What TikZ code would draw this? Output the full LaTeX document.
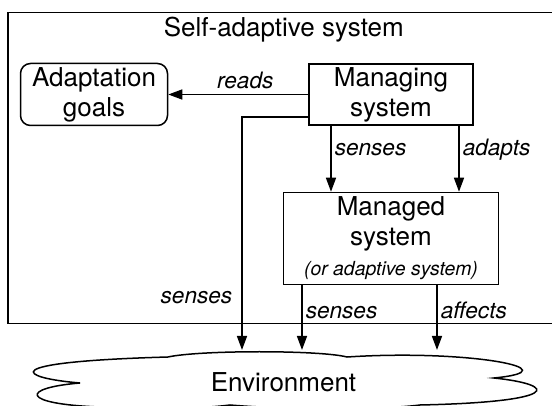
\documentclass[tikz,border=0pt]{standalone}
\usepackage{fontspec}
\setmainfont{TeX Gyre Heros}
\usetikzlibrary{positioning,arrows.meta}
\tikzset{block/.style={draw,inner sep=0pt,align=center,font=\fontsize{13}{15}\selectfont}}
\tikzset{lbl/.style={inner sep=1.5pt,font=\fontsize{11.3}{13}\selectfont\itshape}}
\tikzset{>={Triangle[length=7pt,width=5pt]}}

\begin{document}
\begin{tikzpicture}[x=0.5pt,y=-0.5pt,line width=0.75pt]
    \useasboundingbox (0,0) rectangle (552,406);

    \node (sas) [draw,minimum width=276pt,minimum height=155.5pt,anchor=north west] at (7,12) {};
    \node (title) [anchor=base,font=\fontsize{13}{15}\selectfont] at ([yshift=-12.5pt]sas.north) {Self-adaptive system};

    \node (managing) [block,minimum width=82pt,minimum height=30.5pt] at (391,94.5) {Managing\\system};
    \node (goals) [block,rounded corners=5pt,minimum width=73.5pt,minimum height=31pt,left=70pt of managing] {Adaptation\\goals};
    \node (managed) [block,minimum width=107.5pt,minimum height=46pt,below=33pt of managing] {Managed\\system\\{\fontsize{9.7}{15}\selectfont\itshape (or adaptive system)}};

    % environment cloud
    \draw (80,383) .. controls (20,378) and (-10,362) .. (168,357)
          .. controls (200,350) and (320,350) .. (347,357)
          .. controls (470,349) and (575,370) .. (494,378)
          .. controls (560,385) and (560,402) .. (420,405)
          .. controls (380,410) and (290,410) .. (230,405)
          .. controls (190,410) and (140,408) .. (100,407)
          .. controls (20,404) and (20,388) .. cycle;
    \node (env) [anchor=base,font=\fontsize{13}{15}\selectfont] at (283.5,392) {Environment};
    \coordinate (e1) at (242,350);
    \coordinate (e2) at (302,350);
    \coordinate (e3) at (437,350);

    \draw [->] (managing) -- node (rd) [lbl,anchor=base,yshift=3pt,pos=0.45] {reads} (goals);
    \draw [->] ([yshift=-11.25pt]managing.west) -| node (s1) [lbl,anchor=base east,xshift=-3pt,pos=0.9] {senses} (e1);
    \draw [->] ([xshift=-30pt]managing.south) -- node (s2) [lbl,anchor=base west,pos=0.45] {senses} ([xshift=-30pt]managing.south |- managed.north);
    \draw [->] ([xshift=34pt]managing.south) -- node (ad) [lbl,anchor=base west,pos=0.45] {adapts} ([xshift=34pt]managing.south |- managed.north);
    \draw [->] (managed.south -| e2) -- node (s3) [lbl,anchor=base west,pos=0.52] {senses} (e2);
    \draw [->] (managed.south -| e3) -- node (af) [lbl,anchor=base west,pos=0.52] {affects} (e3);
\end{tikzpicture}
\end{document}
